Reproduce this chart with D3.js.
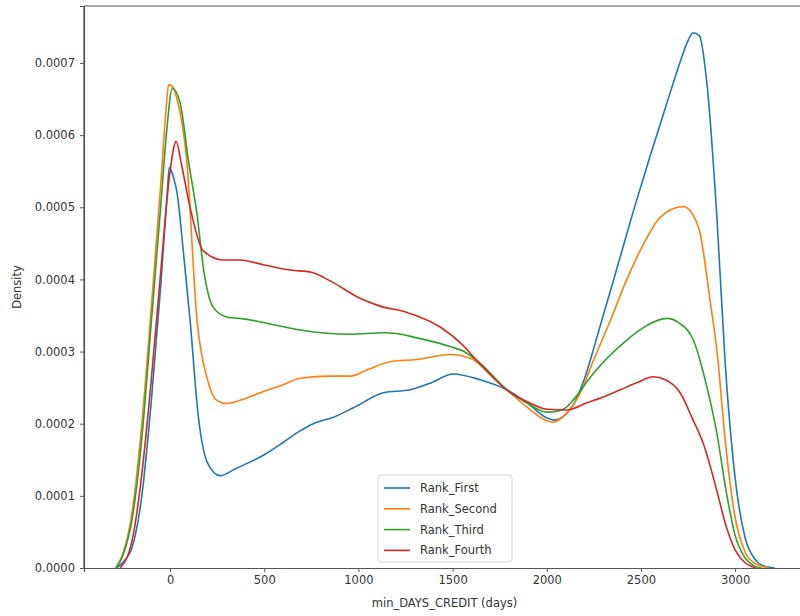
<!DOCTYPE html>
<html><head><meta charset="utf-8">
<script src="https://cdn.jsdelivr.net/npm/d3@7"></script>
<style>body{margin:0;background:#fff;} svg{display:block;font-family:"DejaVu Sans",sans-serif;}</style>
</head><body>
<svg id="c" width="800" height="616"></svg>
<script>
const seriesNames = ["Rank_First","Rank_Second","Rank_Third","Rank_Fourth"];
const colors = ["#1f77b4","#ff7f0e","#2ca02c","#d62728"];
const xTicks = [0,500,1000,1500,2000,2500,3000];
const yTicks = [0,0.0001,0.0002,0.0003,0.0004,0.0005,0.0006,0.0007];

const rankFirst = [[-285,0],[-250,0.000008],[-200,0.00003],[-150,0.0001],[-100,0.00023],[-50,0.00039],[-15,0.00052],[-4,0.000555],[20,0.00054],[37,0.00052],[70,0.00044],[106,0.000344],[150,0.00021],[200,0.000145],[265,0.000128],[350,0.000138],[500,0.000157],[600,0.000174],[690,0.00019],[760,0.0002],[867,0.000209],[973,0.000222],[1133,0.000243],[1274,0.000247],[1380,0.000256],[1504,0.000269],[1646,0.000261],[1788,0.000247],[1900,0.000228],[2000,0.000208],[2040,0.000205],[2100,0.000213],[2141,0.000226],[2194,0.000258],[2283,0.000335],[2372,0.000415],[2460,0.000495],[2550,0.000572],[2630,0.000638],[2700,0.000695],[2745,0.000728],[2777,0.000742],[2810,0.000738],[2850,0.000672],[2903,0.000487],[2947,0.000285],[3000,0.000125],[3053,0.000042],[3106,0.000012],[3160,0.000002],[3210,0]];
const rankSecond = [[-290,0],[-250,0.00002],[-200,0.00008],[-150,0.0002],[-100,0.00036],[-50,0.00053],[-20,0.00064],[-8,0.00067],[10,0.000668],[37,0.00065],[88,0.000566],[143,0.000344],[200,0.00026],[250,0.000232],[300,0.000228],[400,0.000235],[500,0.000245],[600,0.000254],[690,0.000263],[850,0.000266],[956,0.000266],[1050,0.000275],[1168,0.000286],[1310,0.000289],[1487,0.000296],[1600,0.00029],[1700,0.000268],[1788,0.000247],[1900,0.000222],[2000,0.000204],[2035,0.000202],[2080,0.000208],[2124,0.00022],[2177,0.000242],[2248,0.000288],[2336,0.000342],[2425,0.0004],[2512,0.000448],[2602,0.000486],[2725,0.000501],[2770,0.000492],[2814,0.000464],[2867,0.000371],[2903,0.000302],[2950,0.00017],[3000,0.00007],[3050,0.000024],[3100,0.000007],[3180,0]];
const rankThird = [[-285,0],[-250,0.000018],[-200,0.00007],[-150,0.00018],[-100,0.00034],[-50,0.0005],[-20,0.0006],[12,0.000665],[53,0.000645],[100,0.00056],[143,0.00049],[180,0.00041],[228,0.000362],[300,0.000348],[400,0.000345],[500,0.00034],[690,0.00033],[956,0.000324],[1133,0.000326],[1200,0.000325],[1310,0.000319],[1487,0.000307],[1560,0.0003],[1650,0.000283],[1788,0.000247],[1900,0.000228],[2000,0.000216],[2050,0.000217],[2100,0.000222],[2141,0.000233],[2248,0.00027],[2425,0.000316],[2530,0.000336],[2637,0.000346],[2700,0.00034],[2778,0.000316],[2850,0.000251],[2903,0.000187],[2950,0.00011],[3000,0.000045],[3050,0.000015],[3100,0.000003],[3140,0]];
const rankFourth = [[-265,0],[-200,0.00004],[-150,0.00013],[-100,0.00026],[-50,0.00041],[0,0.00055],[32,0.000591],[60,0.00056],[106,0.0005],[175,0.00044],[281,0.000427],[372,0.000427],[500,0.00042],[637,0.000413],[750,0.00041],[850,0.000398],[1000,0.000375],[1115,0.000363],[1250,0.000355],[1434,0.000334],[1550,0.00031],[1628,0.000288],[1788,0.000247],[1900,0.00023],[2000,0.00022],[2106,0.000219],[2213,0.000229],[2300,0.000237],[2390,0.000247],[2480,0.000257],[2565,0.000265],[2630,0.000261],[2708,0.000243],[2777,0.000205],[2832,0.000172],[2900,0.00011],[2950,0.00006],[3000,0.000025],[3050,0.000008],[3110,0]];
const allSeries = [rankFirst, rankSecond, rankThird, rankFourth];

const svg = d3.select("#c");
const L = 84, R = 805, T = 6, B = 568;
const x = d3.scaleLinear().domain([-457, 3371]).range([L, R]);
const y = d3.scaleLinear().domain([0, 0.000779]).range([B, T]);

const line = d3.line().x(d=>x(d[0])).y(d=>y(d[1])).curve(d3.curveMonotoneX);
const g = svg.append("g");
allSeries.forEach((s,i)=>{
  g.append("path").datum(s).attr("d", line).attr("fill","none")
   .attr("stroke", colors[i]).attr("stroke-width",1.6).attr("stroke-linejoin","round");
});

// spines
svg.append("line").attr("x1",L).attr("x2",L).attr("y1",T).attr("y2",B).attr("stroke","#555").attr("stroke-width",1.2);
svg.append("line").attr("x1",L).attr("x2",R).attr("y1",T).attr("y2",T).attr("stroke","#555").attr("stroke-width",1.2);
svg.append("line").attr("x1",R).attr("x2",R).attr("y1",T).attr("y2",B).attr("stroke","#555").attr("stroke-width",1.2);

const xAxis = svg.append("g").attr("transform",`translate(0,${B})`)
  .call(d3.axisBottom(x).tickValues(xTicks).tickSize(4).tickPadding(4).tickFormat(d3.format("d")));
const yAxis = svg.append("g").attr("transform",`translate(${L},0)`)
  .call(d3.axisLeft(y).tickValues(yTicks).tickSize(4).tickPadding(5).tickFormat(d3.format(".4f")));
[xAxis,yAxis].forEach(a=>{
  a.select(".domain").attr("stroke","#555").attr("stroke-width",1.2);
  a.selectAll(".tick line").attr("stroke","#555");
  a.selectAll("text").attr("fill","#333").style("font-size","11.5px").style("font-family","DejaVu Sans");
});

svg.append("text").attr("x",(L+R)/2).attr("y",607).attr("text-anchor","middle")
  .attr("fill","#333").style("font-size","11.5px").text("min_DAYS_CREDIT (days)");
svg.append("text").attr("transform",`translate(21,${(T+B)/2}) rotate(-90)`).attr("text-anchor","middle")
  .attr("fill","#333").style("font-size","11.5px").text("Density");

// legend
const lg = svg.append("g");
lg.append("rect").attr("x",378).attr("y",475).attr("width",134).attr("height",87).attr("rx",3)
  .attr("fill","#fff").attr("fill-opacity",0.85).attr("stroke","#d8d8d8");
seriesNames.forEach((n,i)=>{
  const yy = 488 + i*20.8;
  lg.append("line").attr("x1",384).attr("x2",410).attr("y1",yy).attr("y2",yy).attr("stroke",colors[i]).attr("stroke-width",1.6);
  lg.append("text").attr("x",420).attr("y",yy+4).attr("fill","#333").style("font-size","11.5px").text(n);
});
</script>
</body></html>
